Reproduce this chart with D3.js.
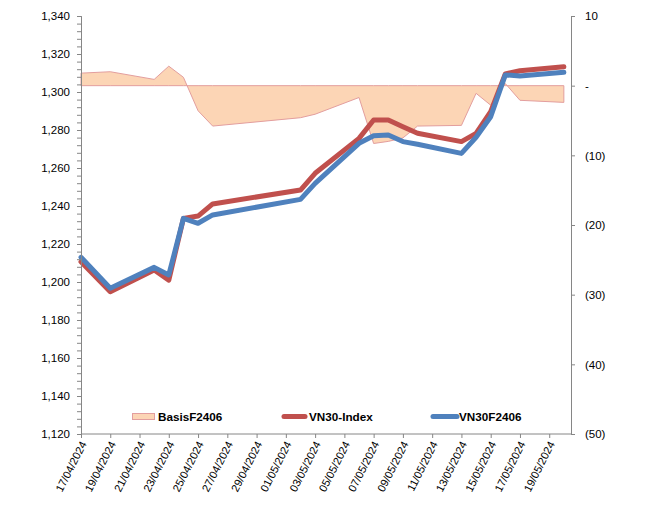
<!DOCTYPE html>
<html>
<head>
<meta charset="utf-8">
<script src="https://cdn.jsdelivr.net/npm/d3@7"></script>
<style>
  html, body { margin: 0; padding: 0; background: #fff; }
  svg { display: block; font-family: "Liberation Sans", Arial, sans-serif; }
</style>
</head>
<body>
<svg id="chart" width="645" height="510"></svg>
<script>
// ---- data ----
const dates = ["2024-04-17","2024-04-19","2024-04-22","2024-04-23","2024-04-24","2024-04-25","2024-04-26",
  "2024-05-02","2024-05-03","2024-05-06","2024-05-07","2024-05-08","2024-05-09","2024-05-10",
  "2024-05-13","2024-05-14","2024-05-15","2024-05-16","2024-05-17","2024-05-20"];
const vn30Index = [1210.7,1194.9,1206.3,1201.0,1233.5,1234.7,1241.1,1248.4,1257.2,1275.6,1285.3,1285.3,1281.7,1278.3,1273.9,1278.2,1289.6,1309.5,1311.2,1313.3];
const vn30F2406 = [1213.0,1196.7,1207.7,1203.7,1233.5,1230.9,1235.3,1243.5,1251.9,1273.0,1277.0,1277.4,1273.9,1272.5,1267.7,1276.2,1287.0,1309.0,1308.4,1310.4];
const basisF2406 = [1.8,2.0,0.9,2.8,1.2,-3.6,-5.8,-4.6,-4.1,-1.7,-8.3,-8.0,-7.5,-5.8,-5.7,-1.1,-2.8,0.3,-2.1,-2.4];
const xTickLabels = ["17/04/2024","19/04/2024","21/04/2024","23/04/2024","25/04/2024","27/04/2024","29/04/2024",
  "01/05/2024","03/05/2024","05/05/2024","07/05/2024","09/05/2024","11/05/2024","13/05/2024","15/05/2024","17/05/2024","19/05/2024"];
const leftTicks = [1120,1140,1160,1180,1200,1220,1240,1260,1280,1300,1320,1340];
const rightTicks = [-50,-40,-30,-20,-10,0,10];
const seriesNames = ["BasisF2406","VN30-Index","VN30F2406"];

// ---- layout ----
const svg = d3.select("#chart");
const mLeft = 81, mRight = 571, mTop = 16, mBottom = 434;
const parse = d3.utcParse("%Y-%m-%d");
const parseLbl = d3.utcParse("%d/%m/%Y");
const d0 = parse(dates[0]);
const dEnd = new Date(d0.getTime() + 33.42 * 86400000);

const x = d3.scaleUtc().domain([d0, dEnd]).range([mLeft, mRight - 1]);
const yL = d3.scaleLinear().domain([1120, 1340]).range([mBottom, mTop]);
const yR = d3.scaleLinear().domain([-50, 10]).range([mBottom, mTop]);

const pts = dates.map((d, i) => ({ d: parse(d), idx: vn30Index[i], fut: vn30F2406[i], b: basisF2406[i] }));

const axisColor = "#868686";

// ---- area (basis) ----
const area = d3.area().x(p => x(p.d)).y0(yR(0)).y1(p => yR(p.b));
svg.append("path")
  .attr("d", area(pts) + "Z")
  .attr("fill", "#FCD5B5").attr("stroke", "#E39E9E").attr("stroke-width", 1);

// ---- lines ----
const lineIdx = d3.line().x(p => x(p.d)).y(p => yL(p.idx));
const lineFut = d3.line().x(p => x(p.d)).y(p => yL(p.fut));
svg.append("path").attr("d", lineIdx(pts)).attr("fill", "none")
  .attr("stroke", "#C0504D").attr("stroke-width", 5).attr("stroke-linejoin", "round").attr("stroke-linecap", "round");
svg.append("path").attr("d", lineFut(pts)).attr("fill", "none")
  .attr("stroke", "#4F81BD").attr("stroke-width", 5).attr("stroke-linejoin", "round").attr("stroke-linecap", "round");

// ---- left axis ----
const gL = svg.append("g").attr("transform", `translate(${mLeft},0)`);
const minor = d3.range(1120, 1340.1, 4);
gL.append("g").call(d3.axisLeft(yL).tickValues(minor).tickSize(4).tickFormat(""));
gL.append("g").call(d3.axisLeft(yL).tickValues(leftTicks).tickSize(4).tickPadding(7).tickFormat(d3.format(",")));
gL.selectAll("path, line").attr("stroke", axisColor);
gL.selectAll("text").attr("font-size", "11.5px").attr("fill", "#000")
  .style("font-family", "'Liberation Sans', Arial, sans-serif");

// ---- right axis ----
const fmtR = v => v === 0 ? "-" : (v < 0 ? "(" + Math.abs(v) + ")" : String(v));
const gR = svg.append("g").attr("transform", `translate(${mRight},0)`);
gR.call(d3.axisRight(yR).tickValues(rightTicks).tickSize(4).tickPadding(10).tickFormat(fmtR));
gR.selectAll("path, line").attr("stroke", axisColor);
gR.selectAll("text").attr("font-size", "11.5px").attr("fill", "#000")
  .style("font-family", "'Liberation Sans', Arial, sans-serif");

// ---- x axis ----
const gX = svg.append("g").attr("transform", `translate(0,${mBottom})`);
gX.call(d3.axisBottom(x).tickValues(xTickLabels.map(s => parseLbl(s))).tickSize(4).tickSizeOuter(0)
  .tickFormat((d, i) => xTickLabels[i]));
gX.select(".domain").attr("d", `M${mLeft},0H${mRight}`);
gX.selectAll("path, line").attr("stroke", axisColor);
gX.selectAll("text").attr("font-size", "11px").attr("fill", "#000")
  .style("font-family", "'Liberation Sans', Arial, sans-serif")
  .attr("text-anchor", "end").attr("dy", "0.35em")
  .attr("transform", "translate(2,8) rotate(-63)")
  .attr("x", 0).attr("y", 0);

// ---- legend ----
const lg = svg.append("g").attr("font-size", "11.7px").attr("font-weight", "bold");
const ly = 416.5;
lg.append("rect").attr("x", 132.5).attr("y", ly - 3).attr("width", 22).attr("height", 6)
  .attr("fill", "#FCD5B5").attr("stroke", "#E39E9E").attr("stroke-width", 1);
lg.append("text").attr("x", 158).attr("y", ly + 4).text(seriesNames[0]);
lg.append("line").attr("x1", 284).attr("x2", 305).attr("y1", ly).attr("y2", ly)
  .attr("stroke", "#C0504D").attr("stroke-width", 5).attr("stroke-linecap", "round");
lg.append("text").attr("x", 309).attr("y", ly + 4).text(seriesNames[1]);
lg.append("line").attr("x1", 433).attr("x2", 457).attr("y1", ly).attr("y2", ly)
  .attr("stroke", "#4F81BD").attr("stroke-width", 5).attr("stroke-linecap", "round");
lg.append("text").attr("x", 459).attr("y", ly + 4).text(seriesNames[2]);
</script>
</body>
</html>
